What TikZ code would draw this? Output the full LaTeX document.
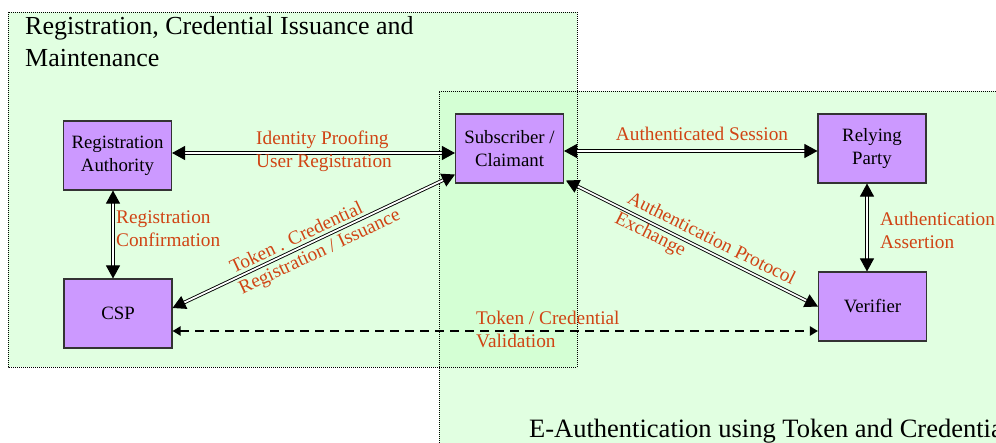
\documentclass[tikz,border=0pt]{standalone}
\usepackage{fontspec}
\setmainfont{Liberation Serif}
\usetikzlibrary{arrows.meta}
\definecolor{regfill}{RGB}{225,255,225}
\definecolor{ovfill}{RGB}{212,255,212}
\definecolor{boxfill}{RGB}{204,153,255}
\definecolor{lblcol}{RGB}{208,68,20}
\begin{document}
\begin{tikzpicture}[x=1pt,y=-1pt,
  box/.style={draw=black!80, line width=1.1pt, fill=boxfill, minimum width=108pt, minimum height=69pt, inner sep=0pt, align=center, font=\fontsize{18.8}{23}\selectfont},
  lbl/.style={text=lblcol, font=\fontsize{19.3}{23}\selectfont, inner sep=0pt, align=left},
  ttl/.style={font=\fontsize{26}{32}\selectfont, inner sep=0pt, align=left},
  dbl/.style={double=white, double distance=1.8pt, line width=0.9pt, {Triangle[length=13pt,width=14pt]}-{Triangle[length=13pt,width=14pt]}},
  dsh/.style={line width=2pt, dash pattern=on 9pt off 6pt, {Triangle[length=8pt,width=9pt]}-{Triangle[length=8pt,width=9pt]}},
  region/.style={draw=black, line width=0.8pt, dash pattern=on 1pt off 1pt}]
\useasboundingbox (0,0) rectangle (996,443);
% regions
\fill[regfill] (8,12) rectangle (577,367);
\fill[regfill] (439,91) rectangle (1010,460);
\fill[ovfill] (439,91) rectangle (577,367);
\draw[region] (8,12) rectangle (577,367);
\draw[region] (1010,91) -- (439,91) -- (439,460);
% titles
\node[ttl, anchor=base west] (t1) at (25,67) {Registration, Credential Issuance and\\Maintenance};
\node[ttl, anchor=base west, font=\fontsize{26.5}{32}\selectfont] (t2) at (529,438) {E-Authentication using Token and Credential};
% boxes
\node[box] (ra) at (117.5,155.5) {Registration\\Authority};
\node[box] (sub) at (509.5,148.5) {Subscriber /\\Claimant};
\node[box] (rp) at (872,148.5) {Relying\\Party};
\node[box] (csp) at (118,313.5) {CSP};
\node[box] (ver) at (872.5,306.5) {Verifier};
% connectors
\draw[dbl] ([yshift=2.5pt]ra.east) -- ([yshift=2.5pt]ra.east -| sub.west);
\draw[dbl] ([yshift=-2.5pt]sub.east) -- ([yshift=-2.5pt]sub.east -| rp.west);
\draw[dbl] ([xshift=-4.5pt]ra.south) -- ([xshift=-4.5pt]ra.south |- csp.north);
\draw[dbl] ([xshift=-5pt]rp.south) -- ([xshift=-5pt]rp.south |- ver.north);
\draw[dbl] ([yshift=5.5pt]csp.east) -- ([yshift=9pt]sub.south west);
\draw[dbl] ([xshift=2pt,yshift=3pt]sub.south east) -- (ver.west);
\draw[dsh] ([yshift=-17.5pt]csp.east) -- ([yshift=-17.5pt]csp.east -| ver.west);
% labels
\node[lbl, anchor=west] (l1) at (256,151.5) {Identity Proofing\\User Registration};
\node[lbl] (l2) at (702,134) {Authenticated Session};
\node[lbl, anchor=west] (l3) at (116,228.5) {Registration\\Confirmation};
\node[lbl, anchor=west] (l4) at (880,230.5) {Authentication\\Assertion};
\node[lbl, anchor=west] (l5) at (476,329.5) {Token / Credential\\Validation};
\node[lbl, rotate=25.3] (l6) at (296,237) {Token . Credential};
\node[lbl, rotate=25.3] (l7) at (320,253) {Registration / Issuance};
\node[lbl, rotate=-26.6] (l8) at (712,238) {Authentication Protocol};
\node[lbl, rotate=-26.6] (l9) at (650,235) {Exchange};
\end{tikzpicture}
\end{document}
